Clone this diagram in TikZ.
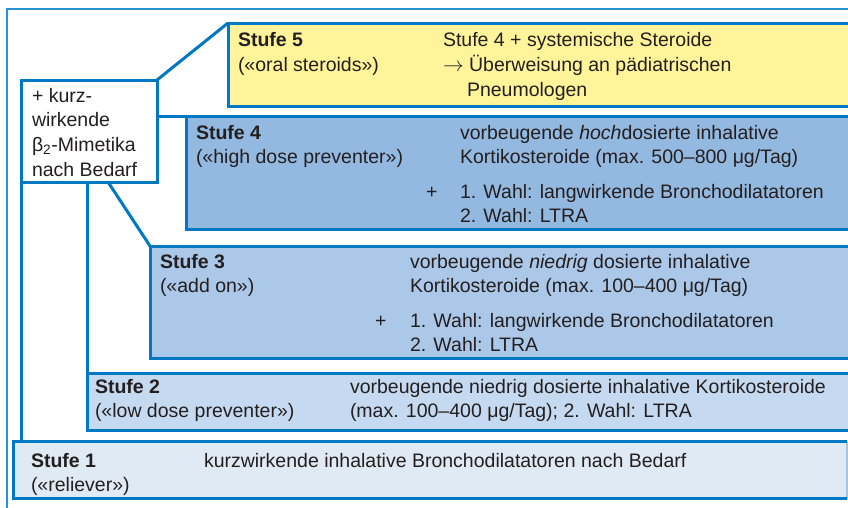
\documentclass[tikz,border=0pt]{standalone}
\usepackage{fontspec}
\setmainfont{Liberation Sans}
\usetikzlibrary{calc}
\definecolor{lineblue}{RGB}{0,120,195}
\definecolor{frameblue}{RGB}{40,146,214}
\definecolor{edgegrey}{RGB}{170,196,222}
\definecolor{fs5}{RGB}{255,244,154}
\definecolor{fs4}{RGB}{148,185,225}
\definecolor{fs3}{RGB}{171,200,232}
\definecolor{fs2}{RGB}{197,218,240}
\definecolor{fs1}{RGB}{224,234,245}
\definecolor{txt}{RGB}{35,31,32}
\begin{document}
\begin{tikzpicture}[x=1pt,y=-1pt,
  stbox/.style={draw=lineblue, line width=3pt, inner sep=0pt, outer sep=0pt, anchor=north west},
  conn/.style={draw=lineblue, line width=3pt},
  lbl/.style={anchor=base west, inner sep=0pt, outer sep=0pt, text=txt, font=\fontsize{19.5}{24.5}\selectfont},
  hd/.style={lbl, font=\fontsize{19.5}{24.5}\selectfont\bfseries}]
\useasboundingbox (0,0) rectangle (848,507);
\clip (0,0) rectangle (848,507);
\fill[white] (0,0) rectangle (848,507);
% outer frame
\draw[frameblue, line width=2pt] (6.5,510) -- (6.5,8.5) -- (850,8.5);
% Stufe boxes
\node[stbox, fill=fs5, minimum width=700pt, minimum height=83pt] (s5) at (228,23) {};
\node[stbox, fill=fs4, minimum width=700pt, minimum height=113pt] (s4) at (186,116.5) {};
\node[stbox, fill=fs3, minimum width=760pt, minimum height=112pt] (s3) at (150,246) {};
\node[stbox, fill=fs2, minimum width=800pt, minimum height=57pt] (s2) at (87,373) {};
\node[anchor=north west, fill=fs1, inner sep=0pt, outer sep=0pt, minimum width=834pt, minimum height=57pt] (s1) at (13,441.5) {};
\draw[edgegrey, line width=1.5pt] (s1.north east) -- (s1.south east);
\draw[conn] (s1.north east) -- (s1.north west) -- (s1.south west) -- (s1.south east);
% beta box
\node[stbox, fill=white, minimum width=136pt, minimum height=102pt] (beta) at (21,80) {};
% connectors
\draw[conn] (beta.north east) -- (s5.north west);
\draw[conn] (beta.east |- s4.north west) -- (s4.north west);
\draw[conn] ($(beta.south west)!0.64!(beta.south east)$) -- (s3.north west);
\draw[conn] (s2.north west |- beta.south) -- (s2.north west);
\draw[conn] (beta.south west) -- (beta.south west |- s1.north);
% beta text
\node[lbl] (b1) at (32,102) {+ kurz-};
\node[lbl] (b2) at (32,126.5) {wirkende};
\node[lbl] (b3) at (32,151) {β\textsubscript{2}-Mimetika};
\node[lbl] (b4) at (32,176) {nach Bedarf};
% Stufe 5
\node[hd] (h5) at (238,46) {Stufe 5};
\node[lbl] (n5) at (238,71) {(«oral steroids»)};
\node[lbl] (t5a) at (443,46) {Stufe 4 + systemische Steroide};
\node[lbl] (t5b) at (443,71) {$\rightarrow$ Überweisung an pädiatrischen};
\node[lbl] (t5c) at (467,96) {Pneumologen};
% Stufe 4
\node[hd] (h4) at (196,139) {Stufe 4};
\node[lbl] (n4) at (196,163.5) {(«high dose preventer»)};
\node[lbl] (t4a) at (460,139) {vorbeugende \textit{hoch}dosierte inhalative};
\node[lbl] (t4b) at (460,163.5) {Kortikosteroide (max. 500–800 μg/Tag)};
\node[lbl] (p4) at (426,198) {+};
\node[lbl] (t4c) at (460,198) {1. Wahl: langwirkende Bronchodilatatoren};
\node[lbl] (t4d) at (460,222.5) {2. Wahl: LTRA};
% Stufe 3
\node[hd] (h3) at (160,268) {Stufe 3};
\node[lbl] (n3) at (160,292.5) {(«add on»)};
\node[lbl] (t3a) at (410,268) {vorbeugende \textit{niedrig} dosierte inhalative};
\node[lbl] (t3b) at (410,292.5) {Kortikosteroide (max. 100–400 μg/Tag)};
\node[lbl] (p3) at (375,327) {+};
\node[lbl] (t3c) at (410,327) {1. Wahl: langwirkende Bronchodilatatoren};
\node[lbl] (t3d) at (410,351.5) {2. Wahl: LTRA};
% Stufe 2
\node[hd] (h2) at (95,393) {Stufe 2};
\node[lbl] (n2) at (95,417.5) {(«low dose preventer»)};
\node[lbl] (t2a) at (350,393) {vorbeugende niedrig dosierte inhalative Kortikosteroide};
\node[lbl] (t2b) at (350,417.5) {(max. 100–400 μg/Tag); 2. Wahl: LTRA};
% Stufe 1
\node[hd] (h1) at (31,467) {Stufe 1};
\node[lbl] (n1) at (31,491) {(«reliever»)};
\node[lbl] (t1a) at (204,467) {kurzwirkende inhalative Bronchodilatatoren nach Bedarf};
\end{tikzpicture}
\end{document}
